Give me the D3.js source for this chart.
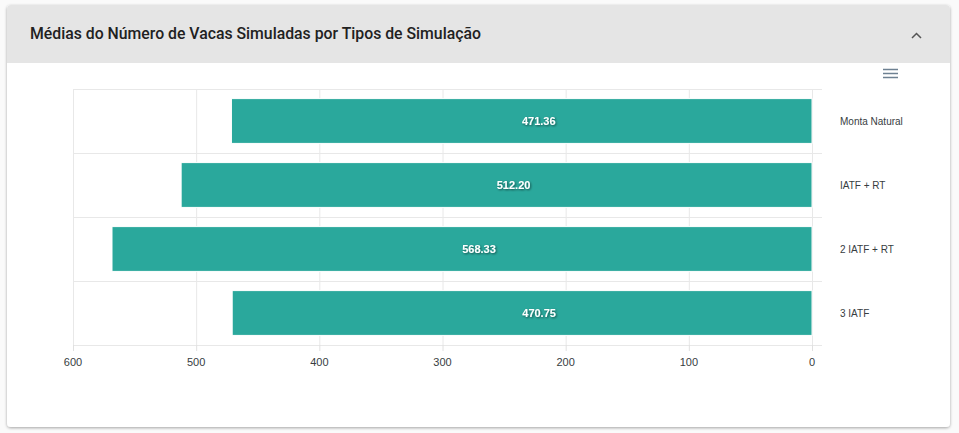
<!DOCTYPE html>
<html><head><meta charset="utf-8">
<script src="https://cdn.jsdelivr.net/npm/d3@7"></script>
<style>
html,body{margin:0;padding:0;background:#fafafa;width:959px;height:433px;overflow:hidden;font-family:Roboto,"Noto Sans",sans-serif;}
</style></head>
<body>
<svg id="c" width="959" height="433"></svg>
<script>
const title = "Médias do Número de Vacas Simuladas por Tipos de Simulação";
const categories = ["Monta Natural", "IATF + RT", "2 IATF + RT", "3 IATF"];
const values = [471.36, 512.20, 568.33, 470.75];
const ticks = [600, 500, 400, 300, 200, 100, 0];

const svg = d3.select("#c");
const defs = svg.append("defs");
const f = defs.append("filter").attr("id","sh").attr("x","-20%").attr("y","-20%").attr("width","140%").attr("height","140%");
f.append("feDropShadow").attr("dx",1).attr("dy",1).attr("stdDeviation",0.8).attr("flood-color","#000").attr("flood-opacity",0.55);
const f2 = defs.append("filter").attr("id","card").attr("x","-5%").attr("y","-5%").attr("width","110%").attr("height","110%");
f2.append("feDropShadow").attr("dx",0).attr("dy",1).attr("stdDeviation",1.5).attr("flood-color","#000").attr("flood-opacity",0.35);

// card
svg.append("rect").attr("x",7).attr("y",5).attr("width",943).attr("height",422).attr("rx",4).attr("fill","#fff").attr("filter","url(#card)");
const clip = defs.append("clipPath").attr("id","cc");
clip.append("rect").attr("x",7).attr("y",5).attr("width",943).attr("height",422).attr("rx",4);
svg.append("rect").attr("x",7).attr("y",5).attr("width",943).attr("height",58).attr("fill","#e5e5e5").attr("clip-path","url(#cc)");
svg.append("text").attr("x",30).attr("y",39).attr("font-size",15.8).attr("font-weight",500).attr("fill","#212121").text(title);
// chevron
svg.append("path").attr("d","M912,38 L916.5,33.5 L921,38").attr("fill","none").attr("stroke","#555").attr("stroke-width",1.5);
// hamburger
[69,73,77].forEach(y=>svg.append("line").attr("x1",883).attr("x2",898).attr("y1",y+0.5).attr("y2",y+0.5).attr("stroke","#6e8192").attr("stroke-width",1.5));

const x = d3.scaleLinear().domain([600,0]).range([73,812]);
const y = d3.scaleBand().domain(categories).range([89,345]).paddingInner(0).paddingOuter(0);

const g = svg.append("g");
// vertical grid
g.selectAll(".vg").data(ticks).join("line").attr("x1",d=>x(d)+0.5).attr("x2",d=>x(d)+0.5).attr("y1",89).attr("y2",345).attr("stroke","#e8e8e8");
// horizontal grid
const hb = categories.map(c=>y(c)).concat([345]);
g.selectAll(".hg").data(hb).join("line").attr("x1",73).attr("x2",822).attr("y1",d=>d+0.5).attr("y2",d=>d+0.5).attr("stroke","#e8e8e8");
// tick marks
g.selectAll(".tk").data(ticks).join("line").attr("x1",d=>x(d)+0.5).attr("x2",d=>x(d)+0.5).attr("y1",345).attr("y2",351).attr("stroke","#e0e0e0");

// bars
const bh = y.bandwidth()*0.7;
g.selectAll(".bar").data(values).join("rect")
 .attr("x",d=>x(d)).attr("width",d=>x(0)-x(d))
 .attr("y",(d,i)=>y(categories[i])+(y.bandwidth()-bh)/2).attr("height",bh)
 .attr("fill","#26a69a").attr("fill-opacity",0.98).attr("stroke","#fff").attr("stroke-width",1);

// data labels
g.selectAll(".dl").data(values).join("text")
 .attr("x",d=>(x(d)+x(0))/2+17).attr("y",(d,i)=>y(categories[i])+y.bandwidth()/2+4)
 .attr("text-anchor","middle").attr("font-size",11).attr("font-weight",700).attr("fill","#fff")
 .attr("font-family","Helvetica, Arial, 'Liberation Sans', sans-serif").attr("filter","url(#sh)")
 .text(d=>d.toFixed(2));

// category labels
g.selectAll(".cl").data(categories).join("text")
 .attr("x",840).attr("y",d=>y(d)+y.bandwidth()/2+4)
 .attr("font-size",10).attr("fill","#373d3f").attr("font-family","Helvetica, Arial, 'Liberation Sans', sans-serif")
 .text(d=>d);

// tick labels
g.selectAll(".tl").data(ticks).join("text")
 .attr("x",d=>x(d)).attr("y",366).attr("text-anchor","middle")
 .attr("font-size",11).attr("fill","#373d3f").attr("font-family","Helvetica, Arial, 'Liberation Sans', sans-serif")
 .text(d=>d);
</script>
</body></html>
